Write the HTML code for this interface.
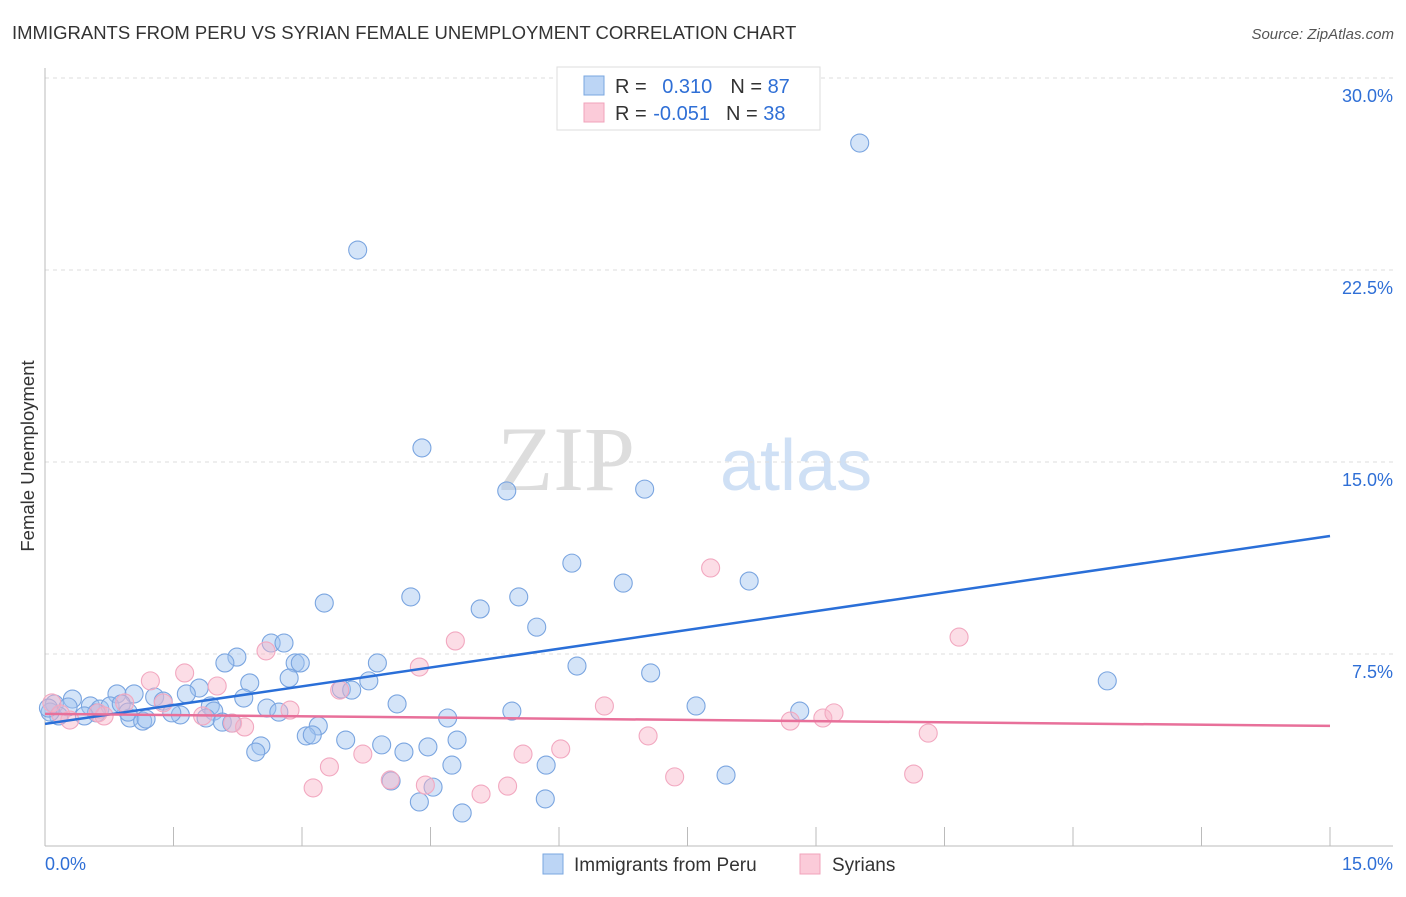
<!DOCTYPE html>
<html><head><meta charset="utf-8"><style>
body{margin:0;background:#fff;font-family:"Liberation Sans",sans-serif;}
</style></head><body>
<svg width="1406" height="892" viewBox="0 0 1406 892" xmlns="http://www.w3.org/2000/svg" id="svg">
<text x="12" y="39" font-size="18.5" fill="#333">IMMIGRANTS FROM PERU VS SYRIAN FEMALE UNEMPLOYMENT CORRELATION CHART</text>
<text x="1394" y="39" font-size="15" fill="#555" font-style="italic" text-anchor="end">Source: ZipAtlas.com</text>
<g>
<text x="635" y="490" font-size="92" fill="#ddd" text-anchor="end" font-family="Liberation Serif,serif">ZIP</text>
<text x="720" y="490" font-size="72" fill="#cfe0f5">atlas</text>
</g>
<g id="grid"></g>
<g id="axes"></g>
<g id="marks"></g>
<text transform="translate(34,456) rotate(-90)" font-size="18.5" fill="#333" text-anchor="middle">Female Unemployment</text>
<g>
<rect x="557" y="67" width="263" height="63" fill="#fff" stroke="#ddd"/>
<rect x="584" y="76" width="20" height="19" fill="#bcd5f5" stroke="#7aa7e0"/>
<rect x="584" y="103" width="20" height="19" fill="#fbcbd9" stroke="#f0a3bb"/>
<text x="615" y="93" font-size="20" fill="#333">R = <tspan fill="#2f6fd6" dx="10">0.310</tspan><tspan dx="18" fill="#333">N = </tspan><tspan fill="#2f6fd6">87</tspan></text>
<text x="615" y="120" font-size="20" fill="#333">R = <tspan fill="#2f6fd6" dx="1">-0.051</tspan><tspan dx="16" fill="#333">N = </tspan><tspan fill="#2f6fd6">38</tspan></text>
</g>
<g>
<rect x="543" y="854" width="20" height="20" fill="#bcd5f5" stroke="#7aa7e0"/>
<text x="574" y="871" font-size="19" fill="#333">Immigrants from Peru</text>
<rect x="800" y="854" width="20" height="20" fill="#fbcbd9" stroke="#f0a3bb"/>
<text x="832" y="871" font-size="19" fill="#333">Syrians</text>
</g>
</svg>
<script>
const xTicks=[0,1.5,3,4.5,6,7.5,9,10.5,12,13.5,15];
const yTicks=[7.5,15,22.5,30];
const yTickLabels=["7.5%","15.0%","22.5%","30.0%"];
const xEndLabels=["0.0%","15.0%"];
const peruX=[9.51,3.65,4.40,5.39,7.00,6.15,6.75,8.22,4.27,3.26,5.53,5.08,5.74,2.64,2.79,2.24,2.10,2.92,2.98,3.88,6.21,7.07,12.40,2.85,2.39,3.78,3.46,3.58,1.80,1.65,2.32,0.84,1.04,0.32,1.28,1.38,4.11,7.60,8.81,5.45,0.11,0.27,0.53,0.64,0.76,0.89,1.93,1.97,2.59,2.73,1.58,1.48,1.88,0.99,0.97,0.60,0.46,0.16,0.06,1.14,1.18,2.07,2.18,3.19,3.05,3.12,3.51,4.70,2.52,2.46,3.93,4.19,4.47,4.81,4.75,5.85,4.04,4.53,4.37,5.84,4.87,7.95,0.04];
const peruY=[27.46,23.28,15.55,13.87,13.94,11.05,10.27,10.35,9.73,9.49,9.73,9.26,8.55,7.93,7.93,7.38,7.15,7.15,7.15,7.15,7.03,6.76,6.45,6.56,6.37,6.45,6.13,6.09,6.17,5.94,5.78,5.94,5.94,5.74,5.82,5.66,5.55,5.47,5.27,5.27,5.55,5.43,5.47,5.35,5.47,5.55,5.47,5.27,5.39,5.23,5.12,5.20,5.00,5.00,5.23,5.20,5.08,5.08,5.23,4.88,4.96,4.84,4.80,4.69,4.30,4.34,4.14,5.00,3.91,3.67,3.95,3.67,3.87,4.14,3.16,3.16,2.54,2.30,1.72,1.84,1.29,2.77,5.39];
const syrX=[0.08,0.29,0.62,1.23,1.63,2.01,2.58,2.86,2.19,2.33,1.84,0.93,1.38,3.44,4.37,4.79,5.58,6.02,5.09,5.40,4.44,4.03,3.13,3.32,3.71,6.53,7.04,7.35,7.77,8.70,9.08,9.21,10.14,10.31,10.67,0.69,0.18];
const syrY=[5.59,4.92,5.20,6.45,6.76,6.25,7.62,5.31,4.80,4.65,5.08,5.59,5.59,6.09,6.99,8.01,3.59,3.79,2.03,2.34,2.38,2.58,2.27,3.09,3.59,5.47,4.30,2.70,10.86,4.88,5.00,5.20,2.81,4.41,8.16,5.08,5.16];
const peruTrend=[4.77,12.11];
const syrTrend=[5.16,4.69];
const NS="http://www.w3.org/2000/svg";
const sx=v=>45+v/15*1285, sy=v=>846-v/7.5*192;
function mk(t,a,p){const e=document.createElementNS(NS,t);for(const k in a)e.setAttribute(k,a[k]);p.appendChild(e);return e;}
const grid=document.getElementById('grid'),axes=document.getElementById('axes'),marks=document.getElementById('marks');
yTicks.forEach((v,i)=>{
 const l=mk('line',{x1:45,x2:1393,y1:sy(v),y2:sy(v),stroke:'#ddd','stroke-dasharray':'4,4'},grid);
 
 
 const t=mk('text',{x:1393,y:sy(v)+24,'font-size':18,fill:'#2f6fd6','text-anchor':'end'},axes);
 
 
 t.textContent=yTickLabels[i];
});
mk('line',{x1:45,x2:45,y1:68,y2:846,stroke:'#bbb'},axes);
mk('line',{x1:45,x2:1393,y1:846,y2:846,stroke:'#bbb'},axes);
xTicks.forEach(v=>{
 const l=mk('line',{x1:sx(v),x2:sx(v),y1:827,y2:846,stroke:'#bbb'},axes);
 
 
});
[[0,'start',45],[15,'end',1393]].forEach((d,i)=>{
 const t=mk('text',{x:d[2],y:870,'font-size':18,fill:'#2f6fd6','text-anchor':d[1]},axes);
 
 
 t.textContent=xEndLabels[i];
});
peruX.forEach((x,i)=>{
 const c=mk('circle',{cx:sx(x),cy:sy(peruY[i]),r:9,fill:'rgba(160,196,240,0.45)',stroke:'#7aa5e0','stroke-width':1.1},marks);
 
 
});
syrX.forEach((x,i)=>{
 const c=mk('circle',{cx:sx(x),cy:sy(syrY[i]),r:9,fill:'rgba(248,180,200,0.45)',stroke:'#f2a8c0','stroke-width':1.1},marks);
 
 
});
const t1=mk('line',{x1:sx(0),x2:sx(15),y1:sy(peruTrend[0]),y2:sy(peruTrend[1]),stroke:'#2a6fd8','stroke-width':2.5},marks);


const t2=mk('line',{x1:sx(0),x2:sx(15),y1:sy(syrTrend[0]),y2:sy(syrTrend[1]),stroke:'#e8709a','stroke-width':2.5},marks);


</script>
</body></html>
